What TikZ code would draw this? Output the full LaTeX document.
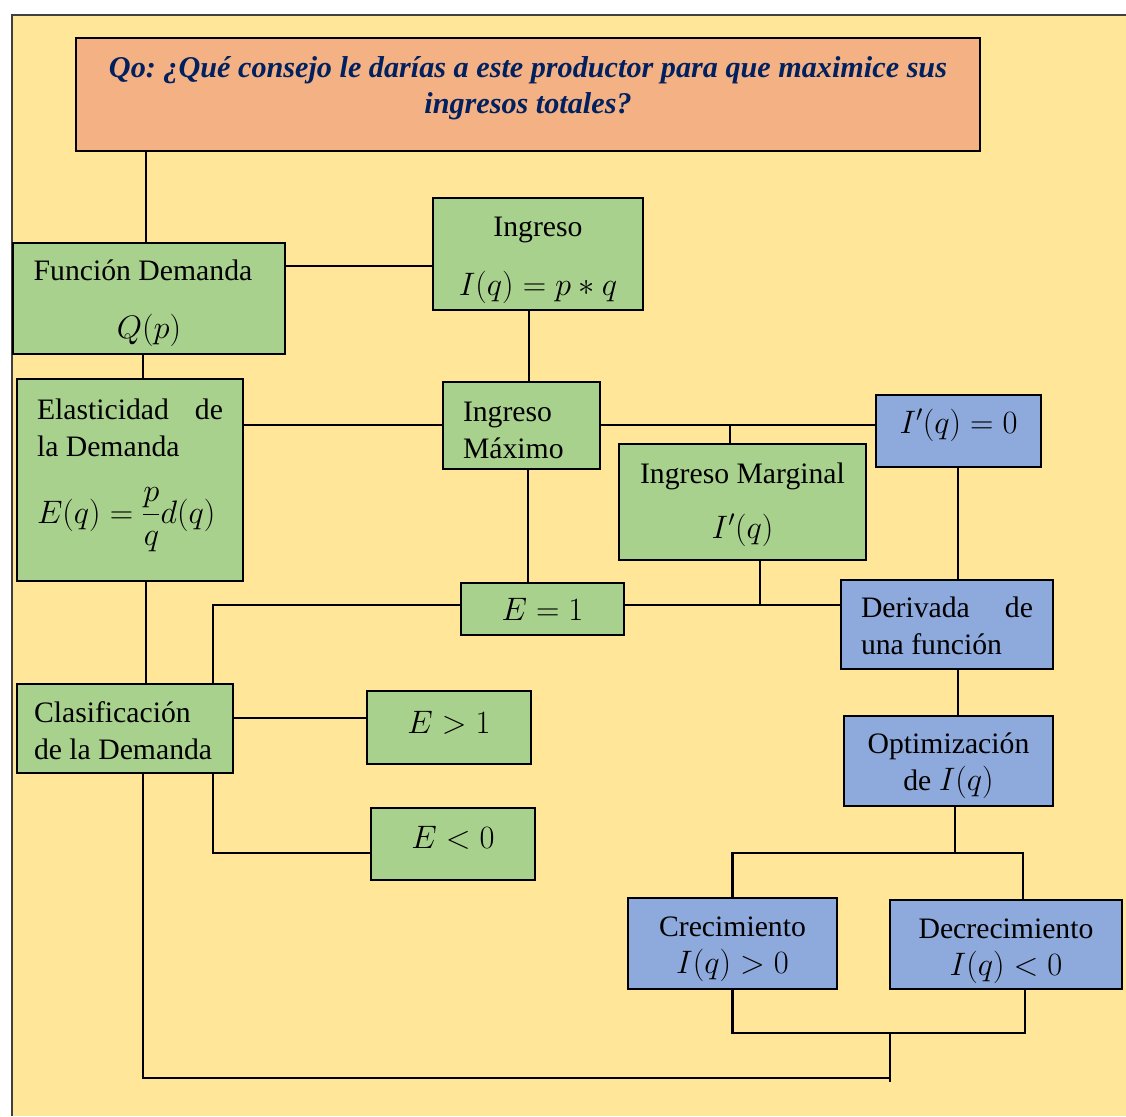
\RequirePackage{fix-cm}
\documentclass[tikz,border=0pt]{standalone}
\usepackage{amsmath}
\usepackage{fontspec}
\setmainfont{Liberation Serif}
\definecolor{bgy}{HTML}{FFE699}
\definecolor{grn}{HTML}{A9D18E}
\definecolor{blu}{HTML}{8EA9DB}
\definecolor{org}{HTML}{F4B183}
\definecolor{tblue}{HTML}{002060}
\newcommand\txtup[2]{\raisebox{0pt}[\height][\dimexpr\depth+#1\relax]{#2}}
\newcommand\txtdn[2]{\raisebox{0pt}[\dimexpr\height+#1\relax][\depth]{#2}}
\newcommand\mth[1]{{\fontsize{32.5}{37}\selectfont$#1$}}
\begin{document}
\frenchspacing
\begin{tikzpicture}[x=1pt,y=-1pt,
  box/.style={draw=black, line width=1.6pt, inner sep=0pt, font=\fontsize{29.7}{37}\selectfont},
  gbox/.style={box, fill=grn},
  bbox/.style={box, fill=blu},
  conn/.style={line width=2.8pt}]
\useasboundingbox (0,0) rectangle (1126,1116);
\fill[white] (0,0) rectangle (1126,1116);
\fill[bgy] (12,15) rectangle (1126,1116);
\draw[line width=1.4pt, black!75] (12,1116) -- (12,15) -- (1126,15);

% nodes
\node[box, fill=org, minimum width=904pt, minimum height=113pt,
      font=\fontsize{30.2}{36}\selectfont\bfseries\itshape, text=tblue] (title) at (528,94.5)
  {\txtup{12pt}{\parbox{900pt}{\centering Qo: ¿Qué consejo le darías a este productor para que maximice sus\\ingresos totales?}}};
\node[gbox, minimum width=272pt, minimum height=111pt] (fd) at (149,298.5)
  {\txtdn{10pt}{\parbox{260pt}{\centering \hspace*{-12pt}Función Demanda\\[21pt]\mth{Q(p)}}}};
\node[gbox, minimum width=210pt, minimum height=112pt] (ing) at (538,254)
  {\txtdn{13pt}{\parbox{200pt}{\centering Ingreso\\[22pt]\mth{I(q)=p*q}}}};
\node[gbox, minimum width=226pt, minimum height=202pt] (ela) at (130,480)
  {\txtup{10pt}{\parbox{186pt}{Elasticidad\hfill de\\la Demanda\\[30pt]\mth{E(q)=\dfrac{p}{q}d(q)}}}};
\node[gbox, minimum width=157pt, minimum height=87pt] (imax) at (521.5,425.5)
  {\txtdn{9pt}{\parbox{117pt}{Ingreso\\Máximo}}};
\node[bbox, minimum width=165pt, minimum height=72pt] (i0) at (958.5,431)
  {\txtup{12pt}{\mth{I'(q)=0}}};
\node[gbox, minimum width=247pt, minimum height=116pt] (imar) at (742.5,502)
  {\txtdn{5pt}{\parbox{240pt}{\centering Ingreso Marginal\\[18pt]\mth{I'(q)}}}};
\node[gbox, minimum width=163pt, minimum height=52pt] (e1) at (542.5,609)
  {\mth{E=1}};
\node[bbox, minimum width=212pt, minimum height=89pt] (der) at (947,624.5)
  {\txtdn{3pt}{\parbox{172pt}{Derivada\hfill de\\una función}}};
\node[gbox, minimum width=216pt, minimum height=89pt] (cla) at (125,728.5)
  {\txtdn{4pt}{\parbox{182pt}{Clasificación\\de la Demanda}}};
\node[gbox, minimum width=164pt, minimum height=73pt] (eg1) at (449,727.5)
  {\txtup{10pt}{\mth{E>1}}};
\node[gbox, minimum width=164pt, minimum height=72pt] (el0) at (453,844)
  {\txtup{12pt}{\mth{E<0}}};
\node[bbox, minimum width=209pt, minimum height=90pt] (opt) at (948.5,761)
  {\txtdn{10pt}{\parbox{200pt}{\centering Optimización\\de \mth{I(q)}}}};
\node[bbox, minimum width=209pt, minimum height=91pt] (cre) at (732.5,943.5)
  {\txtdn{12pt}{\parbox{200pt}{\centering Crecimiento\\\mth{I(q)>0}}}};
\node[bbox, minimum width=232pt, minimum height=89pt] (dec) at (1006,944.5)
  {\txtdn{13pt}{\parbox{225pt}{\centering Decrecimiento\\\mth{I(q)<0}}}};

% junctions
\coordinate (j1) at (730,425);
\coordinate (j2) at (760,605);
\coordinate (j3) at (955,853);
\coordinate (j4) at (890,1033);
\coordinate (j5) at (890,1078);

% connectors
\draw[conn] (title.south -| 146,0) -- (fd.north -| 146,0);
\draw[conn] (fd.east |- 0,266) -- (ing.west |- 0,266);
\draw[conn] (fd.south -| 143,0) -- (ela.north -| 143,0);
\draw[conn] (ing.south -| 529,0) -- (imax.north -| 529,0);
\draw[conn] (ela.east |- 0,425) -- (imax.west |- 0,425);
\draw[conn] (imax.east |- 0,425) -- (i0.west |- 0,425);
\draw[conn] (j1) -- (imar.north -| j1);
\draw[conn] (imax.south -| 528,0) -- (e1.north -| 528,0);
\draw[conn] (i0.south -| 958,0) -- (der.north -| 958,0);
\draw[conn] (e1.east |- j2) -- (der.west |- j2);
\draw[conn] (imar.south -| j2) -- (j2);
\draw[conn] (e1.west |- j2) -| (cla.north -| 213,0);
\draw[conn] (ela.south -| 146,0) -- (cla.north -| 146,0);
\draw[conn] (cla.east |- 0,718) -- (eg1.west |- 0,718);
\draw[conn] (cla.south -| 213,0) |- (el0.west |- 0,853);
\draw[conn] (der.south -| 958,0) -- (opt.north -| 958,0);
\draw[conn] (opt.south -| j3) -- (j3);
\draw[conn] (cre.north) |- (j3) -| (dec.north -| 1023,0);
\draw[conn] (cre.south) |- (j4) -| (dec.south -| 1025,0);
\draw[conn] (j4) -- ([yshift=-4pt]j5);
\draw[conn] (j5) -| (cla.south -| 143,0);
\end{tikzpicture}
\end{document}
